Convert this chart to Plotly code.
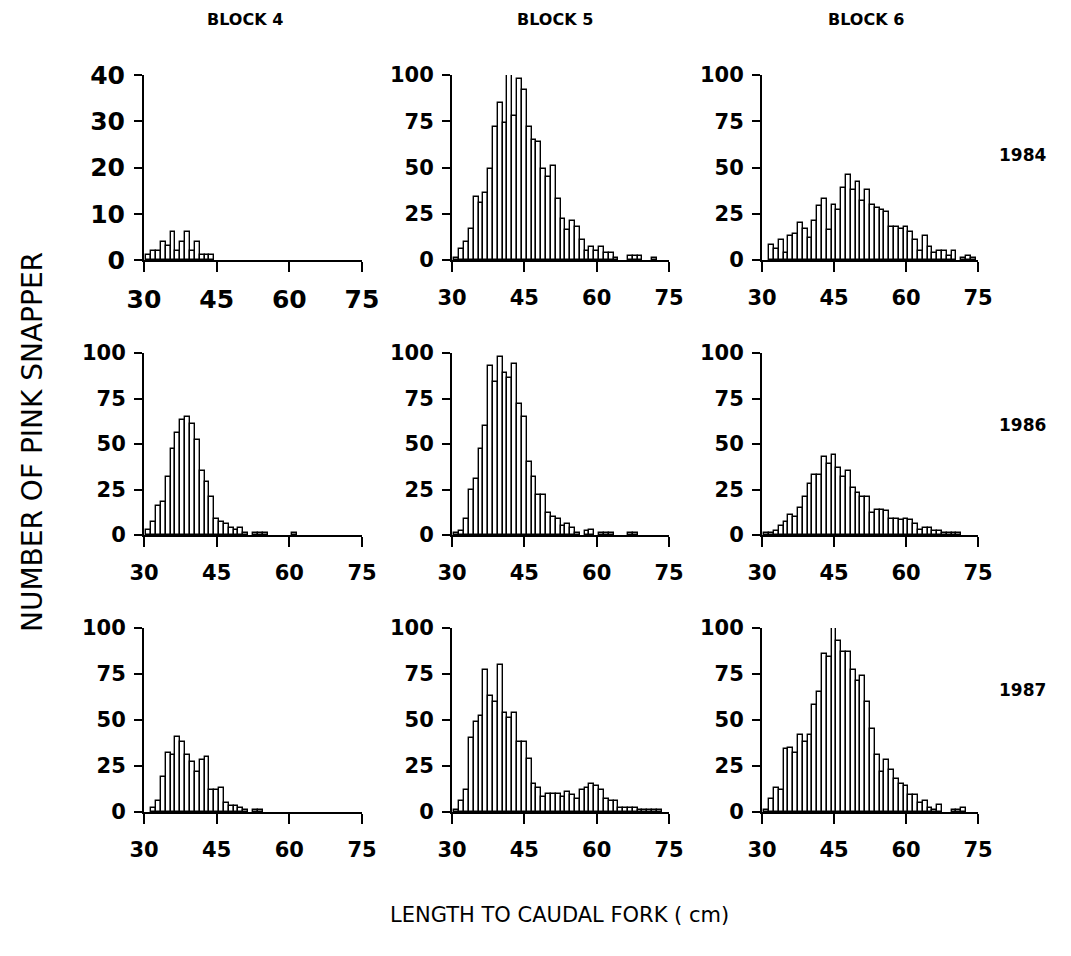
import plotly.graph_objects as go

# ---- data: counts per 1-cm length class, lengths 31..74 cm ----
lengths_cm = list(range(31, 75))

block4_1984 = [1, 2, 2, 4, 3, 6, 2, 4, 6, 2, 4, 1, 1, 1] + [0] * 30
block5_1984 = [1, 6, 10, 17, 34, 31, 36, 49, 72, 85, 74, 100, 78, 98, 92, 72, 65, 64, 49, 45,
               51, 33, 22, 16, 21, 18, 11, 5, 7, 5, 7, 4, 4, 1, 0, 0, 2, 2, 2, 0, 0, 1, 0, 0]
block6_1984 = [0, 8, 6, 11, 4, 13, 14, 20, 17, 12, 21, 29, 33, 16, 30, 27, 39, 46, 38, 42,
               32, 38, 30, 28, 27, 26, 18, 18, 17, 18, 15, 11, 5, 13, 7, 4, 5, 5, 2, 5, 0, 1, 2, 1]

block4_1986 = [3, 7, 16, 18, 32, 47, 56, 63, 65, 61, 52, 35, 29, 21, 9, 7, 6, 4, 3, 4,
               1, 0, 1, 1, 1, 0, 0, 0, 0, 0, 1] + [0] * 13
block5_1986 = [1, 2, 9, 25, 31, 47, 60, 93, 84, 98, 89, 86, 94, 72, 65, 40, 32, 22, 22, 12,
               10, 9, 5, 6, 4, 1, 0, 2, 3, 0, 1, 1, 1, 0, 0, 0, 1, 1, 0, 0, 0, 0, 0, 0]
block6_1986 = [1, 1, 2, 5, 7, 11, 10, 15, 21, 28, 33, 33, 43, 39, 44, 37, 32, 35, 26, 23,
               21, 21, 12, 14, 14, 13, 9, 9, 8, 9, 8, 6, 3, 4, 4, 2, 2, 1, 1, 1, 1, 0, 0, 0]

block4_1987 = [0, 2, 6, 19, 32, 31, 41, 38, 31, 27, 22, 28, 30, 12, 12, 13, 5, 3, 3, 2,
               1, 0, 1, 1] + [0] * 20
block5_1987 = [1, 6, 12, 40, 49, 52, 77, 63, 60, 80, 54, 51, 54, 38, 38, 29, 15, 13, 8, 10,
               10, 10, 8, 11, 9, 7, 12, 13, 15, 14, 12, 7, 6, 6, 2, 2, 2, 2, 1, 1, 1, 1, 1, 0]
block6_1987 = [1, 7, 13, 12, 34, 35, 32, 42, 38, 42, 58, 65, 86, 84, 100, 93, 87, 87, 77, 71,
               74, 60, 45, 31, 22, 28, 23, 18, 15, 14, 9, 9, 5, 6, 2, 1, 4, 0, 0, 1, 1, 2, 0, 0]

block_titles = ["BLOCK 4", "BLOCK 5", "BLOCK 6"]
year_labels = ["1984", "1986", "1987"]
x_ticks = [30, 45, 60, 75]
y_ticks_small = [0, 10, 20, 30, 40]
y_ticks = [0, 25, 50, 75, 100]

panels = [
    [block4_1984, block5_1984, block6_1984],
    [block4_1986, block5_1986, block6_1986],
    [block4_1987, block5_1987, block6_1987],
]

# ---- layout geometry (screen pixels; page body adds an 8px offset) ----
W, H = 1071, 956
OFF = 8
cols_px = [(144, 362), (452, 669), (762, 978)]
rows_px = [(75, 260), (353, 535), (628, 812)]


def fx(px):
    return (px - OFF) / W


def fy(py):
    return 1 - (py - OFF) / H


FONT = "DejaVu Sans"
fig = go.Figure()
layout = dict(
    template="none",
    width=W, height=H, autosize=False,
    margin=dict(l=0, r=0, t=0, b=0, pad=0, autoexpand=False),
    paper_bgcolor="white", plot_bgcolor="white",
    showlegend=False,
    bargap=0,
    font=dict(family=FONT, color="black"),
)

k = 0
for r in range(3):
    for c in range(3):
        k += 1
        xa = "x" if k == 1 else f"x{k}"
        ya = "y" if k == 1 else f"y{k}"
        counts = panels[r][c]
        fig.add_trace(go.Bar(
            x=lengths_cm, y=[v if v else None for v in counts], width=1,
            marker=dict(color="white", line=dict(color="black", width=1.4)),
            xaxis=xa, yaxis=ya, cliponaxis=False, hoverinfo="x+y",
        ))
        big = (r == 0 and c == 0)
        tfont = dict(family=FONT, size=25 if big else 21, color="black", weight="bold")
        x0, x1 = cols_px[c]
        y0, y1 = rows_px[r]
        layout["xaxis" if k == 1 else f"xaxis{k}"] = dict(
            domain=[fx(x0), fx(x1)], anchor=ya, range=[30, 75], automargin=False,
            tickmode="array", tickvals=x_ticks, ticktext=[str(v) for v in x_ticks],
            showline=True, linecolor="black", linewidth=2,
            ticks="outside", ticklen=10, tickwidth=2, tickcolor="black",
            ticklabelstandoff=6 if big else 8,
            showgrid=False, zeroline=False, tickfont=tfont, fixedrange=True,
        )
        yt = y_ticks_small if big else y_ticks
        layout["yaxis" if k == 1 else f"yaxis{k}"] = dict(
            domain=[fy(y1), fy(y0)], anchor=xa, range=[0, yt[-1]], automargin=False,
            tickmode="array", tickvals=yt, ticktext=[str(v) for v in yt],
            showline=True, linecolor="black", linewidth=2,
            ticks="outside", ticklen=8, tickwidth=2, tickcolor="black",
            ticklabelstandoff=4,
            showgrid=False, zeroline=False, tickfont=tfont, fixedrange=True,
        )

annotations = []
for c, t in enumerate(block_titles):
    annotations.append(dict(text=t, x=fx([245, 555, 866][c]), y=fy(20),
                            xref="paper", yref="paper",
                            showarrow=False, xanchor="center", yanchor="middle",
                            font=dict(family=FONT, size=16, color="black", weight="bold")))
for r, t in enumerate(year_labels):
    annotations.append(dict(text=t, x=fx(1022), y=fy([155, 425, 690][r]),
                            xref="paper", yref="paper",
                            showarrow=False, xanchor="center", yanchor="middle",
                            font=dict(family=FONT, size=17, color="black", weight="bold")))
annotations.append(dict(text="NUMBER OF PINK SNAPPER", x=fx(32), y=fy(442),
                        xref="paper", yref="paper", showarrow=False, textangle=-90,
                        xanchor="center", yanchor="middle",
                        font=dict(family=FONT, size=28, color="black")))
annotations.append(dict(text="LENGTH TO CAUDAL FORK ( cm)", x=fx(560), y=fy(915),
                        xref="paper", yref="paper", showarrow=False,
                        xanchor="center", yanchor="middle",
                        font=dict(family=FONT, size=21, color="black")))
layout["annotations"] = annotations

fig.update_layout(**layout)
fig.write_html("out.html")
